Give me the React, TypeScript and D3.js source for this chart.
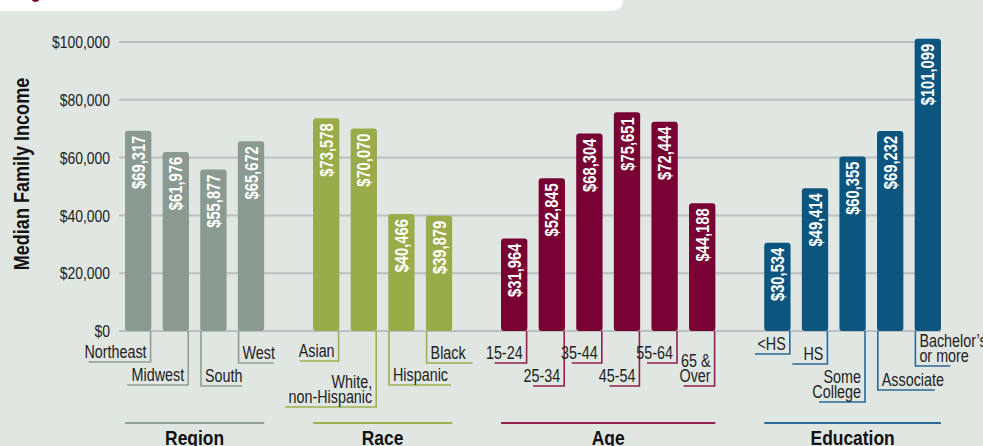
import React from "react";
import * as d3 from "d3";

const groupNames = ["Region", "Race", "Age", "Education"];
const regionCats = ["Northeast", "Midwest", "South", "West"];
const regionVals = [69317, 61976, 55877, 65672];
const raceCats = ["Asian", "White,\nnon-Hispanic", "Hispanic", "Black"];
const raceVals = [73578, 70070, 40466, 39879];
const ageCats = ["15-24", "25-34", "35-44", "45-54", "55-64", "65 &\nOver"];
const ageVals = [31964, 52845, 68304, 75651, 72444, 44188];
const eduCats = ["<HS", "HS", "Some\nCollege", "Associate", "Bachelor’s\nor more"];
const eduVals = [30534, 49414, 60355, 69232, 101099];
const yTicks = [0, 20000, 40000, 60000, 80000, 100000];

// layout of label connectors (side of bar, y of underline, underline length)
const labelLayout: [string, number, number][] = [
  ["R", 362, 62], ["R", 385, 61], ["L", 386, 41], ["L", 363, 35],
  ["R", 361, 39], ["R", 407, 91], ["L", 385, 62], ["L", 363, 46],
  ["R", 363, 32], ["R", 386, 31], ["R", 363, 30], ["R", 386, 30], ["R", 363, 30], ["R", 386, 31],
  ["R", 354, 35], ["R", 364, 35], ["R", 402, 46], ["L", 390, 57], ["L", 366, 35],
];

const barColors = ["#8a9a91", "#9aab4a", "#780032", "#0b557f"];
const lineColors = ["#8f9e96", "#9fb050", "#93204f", "#2a6a95"];

const W = 983;
const H = 446;
const font = "'Liberation Sans', Arial, Helvetica, sans-serif";
const SX = 0.82;

export default function App() {
  const groupCats = [regionCats, raceCats, ageCats, eduCats];
  const groupVals = [regionVals, raceVals, ageVals, eduVals];

  const items: { cat: string; val: number; g: number; key: string }[] = [];
  const domain: string[] = [];
  groupCats.forEach((cats, g) => {
    cats.forEach((c, i) => {
      const key = `${g}-${i}`;
      items.push({ cat: c, val: groupVals[g][i], g, key });
      domain.push(key);
    });
    if (g < groupCats.length - 1) domain.push(`gap${g}`);
  });

  const x = d3
    .scaleBand<string>()
    .domain(domain)
    .range([119.4, 946.6])
    .paddingInner(0.3)
    .paddingOuter(0.15);
  const y = d3.scaleLinear().domain([0, 100000]).range([331, 42]);
  const bw = x.bandwidth();
  const fmt = d3.format("$,");

  return (
    <svg
      width={W}
      height={H}
      style={{ position: "absolute", left: 0, top: 0, display: "block" }}
    >
      <rect x={0} y={0} width={W} height={H} fill="#e0e6e2" />
      {/* title banner remnant */}
      <path d="M0,0 H623 V0 Q623,11 611,11 H0 Z" fill="#ffffff" />
      <circle cx={35.5} cy={-2} r={4} fill="#780032" />

      {/* gridlines */}
      {yTicks.map((t) => (
        <g key={t}>
          <line x1={119} x2={941} y1={y(t)} y2={y(t)} stroke="#bcbfc1" strokeWidth={2} />
          <g transform={`translate(110,${y(t)}) scale(${SX},1)`}>
            <text
              x={0}
              y={0}
              dy="0.36em"
              textAnchor="end"
              fontFamily={font}
              fontSize={17}
              fill="#222"
            >
              {fmt(t)}
            </text>
          </g>
        </g>
      ))}

      <g transform={`translate(29,174) rotate(-90) scale(${SX},1)`}>
        <text
          textAnchor="middle"
          fontFamily={font}
          fontWeight="bold"
          fontSize={22}
          fill="#111"
        >
          Median Family Income
        </text>
      </g>

      {/* connectors and labels */}
      {items.map((d, i) => {
        const [side, ly, len] = labelLayout[i];
        const x0 = x(d.key)!;
        const lx = side === "R" ? x0 + bw - 0.75 : x0 + 0.75;
        const hx2 = side === "R" ? lx - len : lx + len;
        const lines = d.cat.split("\n");
        const tx = side === "R" ? lx - 4 : lx + 4;
        return (
          <g key={"l" + d.key}>
            <path
              d={`M${lx},${y(0)} V${ly} H${hx2}`}
              fill="none"
              stroke={lineColors[d.g]}
              strokeWidth={1.6}
            />
            <g transform={`translate(${tx},${ly - 4}) scale(${SX},1)`}>
              <text
                textAnchor={side === "R" ? "end" : "start"}
                fontFamily={font}
                fontSize={17.5}
                fill="#222"
              >
                {lines.map((ln, k) => (
                  <tspan key={k} x={0} y={-(lines.length - 1 - k) * 15}>
                    {ln}
                  </tspan>
                ))}
              </text>
            </g>
          </g>
        );
      })}

      {/* bars */}
      {items.map((d) => {
        const x0 = x(d.key)!;
        const top = y(d.val);
        return (
          <g key={"b" + d.key}>
            <rect
              x={x0}
              y={top}
              width={bw}
              height={y(0) - top}
              rx={3}
              fill={barColors[d.g]}
            />
            <g
              transform={`translate(${x0 + bw / 2 + 6.5},${top + 5}) rotate(-90) scale(${SX},1)`}
            >
              <text
                textAnchor="end"
                fontFamily={font}
                fontWeight="bold"
                fontSize={18}
                fill="#ffffff"
              >
                {fmt(d.val)}
              </text>
            </g>
          </g>
        );
      })}

      {/* group underlines and titles */}
      {groupNames.map((name, g) => {
        const first = x(`${g}-0`)!;
        const last = x(`${g}-${groupCats[g].length - 1}`)! + bw;
        return (
          <g key={name}>
            <line
              x1={first}
              x2={last}
              y1={423}
              y2={423}
              stroke={lineColors[g]}
              strokeWidth={1.8}
            />
            <g transform={`translate(${(first + last) / 2},445) scale(0.83,1)`}>
              <text
                textAnchor="middle"
                fontFamily={font}
                fontWeight="bold"
                fontSize={21}
                fill="#111"
              >
                {name}
              </text>
            </g>
          </g>
        );
      })}
    </svg>
  );
}
